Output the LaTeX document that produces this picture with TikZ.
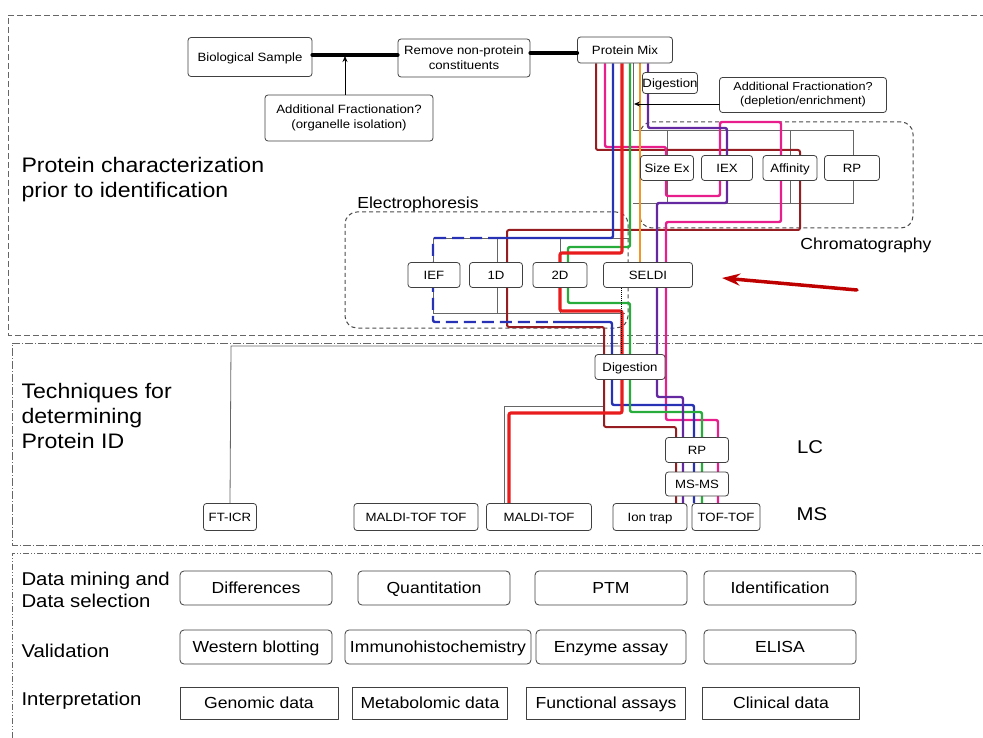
\documentclass[tikz,border=0pt]{standalone}
\usepackage{fontspec}
\setmainfont{Liberation Sans}[FakeStretch=1.1]
\usetikzlibrary{arrows.meta,backgrounds}
\definecolor{brownline}{RGB}{150,30,35}
\definecolor{pinkline}{RGB}{232,30,140}
\definecolor{blueline}{RGB}{40,50,180}
\definecolor{redline}{RGB}{232,28,28}
\definecolor{greenline}{RGB}{40,172,60}
\definecolor{orangeline}{RGB}{242,150,40}
\definecolor{purpleline}{RGB}{100,40,160}
\begin{document}
\begin{tikzpicture}[x=1pt, y=-1pt, line join=round, line cap=round, >=Stealth,
    box/.style={draw=black!75, line width=0.8pt, rounded corners=3pt, fill=white, inner sep=0pt, align=center, font=\fontsize{12}{15}\selectfont},
    sbox/.style={box, text height=11pt, text depth=2.4pt},
    databox/.style={box, text height=14.7pt, text depth=3.2pt, rounded corners=4pt, font=\fontsize{16}{18}\selectfont, minimum width=152pt, minimum height=34pt},
    infobox/.style={databox, rounded corners=0pt, line width=1pt},
    sectitle/.style={anchor=west, align=left, font=\fontsize{21}{25}\selectfont},
    rowtitle/.style={anchor=west, align=left, font=\fontsize{18.5}{22}\selectfont},
    route/.style={line width=2.4pt, rounded corners=2pt},
    bus/.style={draw=black!60, line width=0.8pt}]
\useasboundingbox (0,0) rectangle (983,738);

% section titles
\node[sectitle] (charlabel) at (18,180) {Protein characterization\\prior to identification};
\node[sectitle] (idlabel) at (18,416) {Techniques for\\determining\\Protein ID};
\node[rowtitle] (minelabel) at (18,590) {Data mining and\\Data selection};
\node[rowtitle] (vallabel) at (18,651) {Validation};
\node[rowtitle] (intlabel) at (18,701) {Interpretation};

% sample preparation
\node[sbox, minimum width=124pt, minimum height=39pt] (bio) at (250,57) {Biological Sample};
\node[box, minimum width=132pt, minimum height=38pt] (remove) at (464,58) {Remove non-protein\\constituents};
\node[sbox, minimum width=95pt, minimum height=26pt] (pmix) at (625,50) {Protein Mix};
\node[box, minimum width=168pt, minimum height=46pt] (frac1) at (349,118) {Additional Fractionation?\\(organelle isolation)};
\node[sbox, minimum width=55pt, minimum height=21pt] (dig1) at (670,83) {Digestion};
\node[box, minimum width=167pt, minimum height=35pt, font=\fontsize{11.5}{14}\selectfont] (frac2) at (803,95) {Additional Fractionation?\\(depletion/enrichment)};
\coordinate (jn1) at (345,56);
\coordinate (jn2) at (634,104);
\draw[line width=4pt] (bio.east |- 0,55) -- (remove.west |- 0,55);
\draw[line width=4pt] (remove.east |- 0,53) -- (pmix.west |- 0,53);
\draw[-{Stealth[length=6pt,width=5pt]}, line width=0.8pt] (frac1.north -| jn1) -- (jn1);
\draw[-{Stealth[length=6pt,width=5pt]}, line width=0.8pt] (frac2.west |- jn2) -- (jn2);

% chromatography
\node[sbox, minimum width=53pt, minimum height=25pt] (sizeex) at (667,168) {Size Ex};
\node[sbox, minimum width=51pt, minimum height=25pt] (iex) at (727,168) {IEX};
\node[sbox, minimum width=54pt, minimum height=25pt] (affinity) at (790,168) {Affinity};
\node[sbox, minimum width=55pt, minimum height=25pt] (crp) at (852,168) {RP};
\node[font=\fontsize{16}{18}\selectfont] (chromlabel) at (866,245) {Chromatography};

% electrophoresis
\node[sbox, minimum width=52pt, minimum height=25pt] (ief) at (434,275) {IEF};
\node[sbox, minimum width=53pt, minimum height=25pt] (e1d) at (496,275) {1D};
\node[sbox, minimum width=54pt, minimum height=25pt] (e2d) at (560,275) {2D};
\node[sbox, minimum width=89pt, minimum height=25pt] (seldi) at (648,275) {SELDI};
\node[font=\fontsize{16}{18}\selectfont] (ephlabel) at (418,204) {Electrophoresis};
\draw[-{Stealth[length=18pt,width=12pt]}, line width=3.5pt, red!75!black] (857,290) -- (722,278);

% identification
\node[sbox, minimum width=70pt, minimum height=25pt] (dig2) at (630,367) {Digestion};
\node[sbox, minimum width=63pt, minimum height=25pt] (lcrp) at (697,450) {RP};
\node[sbox, minimum width=63pt, minimum height=24pt] (msms) at (697,484) {MS-MS};
\node[sbox, minimum width=53pt, minimum height=27pt] (fticr) at (230,517) {FT-ICR};
\node[sbox, minimum width=124pt, minimum height=27pt] (mtoftof) at (416,517) {MALDI-TOF TOF};
\node[sbox, minimum width=105pt, minimum height=27pt] (mtof) at (539,517) {MALDI-TOF};
\node[sbox, minimum width=74pt, minimum height=27pt] (iontrap) at (650,517) {Ion trap};
\node[sbox, minimum width=68pt, minimum height=27pt] (toftof) at (726,517) {TOF-TOF};
\node[font=\fontsize{18.5}{22}\selectfont] (lclabel) at (810,447) {LC};
\node[font=\fontsize{18.5}{22}\selectfont] (mslabel) at (812,514) {MS};

% data handling
\node[databox] (diff) at (256,588) {Differences};
\node[databox] (quant) at (434,588) {Quantitation};
\node[databox] (ptm) at (611,588) {PTM};
\node[databox] (ident) at (780,588) {Identification};
\node[databox, minimum width=152pt] (western) at (256,647) {Western blotting};
\node[databox, minimum width=186pt] (immuno) at (438,647) {Immunohistochemistry};
\node[databox, minimum width=150pt] (enzyme) at (611,647) {Enzyme assay};
\node[databox] (elisa) at (780,647) {ELISA};
\node[infobox, minimum width=158pt, minimum height=32pt] (genomic) at (259,703) {Genomic data};
\node[infobox, minimum width=155pt, minimum height=32pt] (metabol) at (430,703) {Metabolomic data};
\node[infobox, minimum width=159pt, minimum height=32pt] (funct) at (606,703) {Functional assays};
\node[infobox, minimum width=157pt, minimum height=32pt] (clinic) at (781,703) {Clinical data};

\begin{scope}[on background layer]
  \draw[black!60, line width=0.8pt, dash pattern=on 6pt off 3pt] (995,15) -- (8,15) -- (8,335) -- (995,335);
  \draw[black!60, line width=0.8pt, dash pattern=on 8pt off 2pt on 1pt off 2pt] (995,343) -- (12,343) -- (12,545) -- (995,545);
  \draw[black!60, line width=0.8pt, dash pattern=on 6pt off 2pt on 1pt off 2pt on 1pt off 2pt] (995,553) -- (12,553) -- (12,745);
  \draw[black!70, line width=1pt, dash pattern=on 4pt off 3pt, rounded corners=12pt] (345,212) rectangle (628,328);
  \draw[black!70, line width=1pt, dash pattern=on 4pt off 3pt, rounded corners=12pt] (640,122) rectangle (913,228);
  % grey buses
  \draw[bus] (pmix.south -| 633,0) -- (633,130) -- (853,130) -- (853,203) -- (633,203);
  \foreach \bx in {667,727,790} \draw[bus] (\bx,130) -- (\bx,203);
  \draw[bus] (630,238) -- (433,238) -- (433,313) -- (625,313);
  \foreach \bx in {497,560} \draw[bus] (\bx,238) -- (\bx,313);
  \draw[bus] (fticr.north) -- (231,346) -- (621,346);
  \draw[bus] (mtof.north -| 504,0) -- (504,406) -- (604,406);
  % sample routes
  \draw[route, brownline, line width=2pt] (pmix.south -| 596,0) |- (800,150) |- (507,230) |- (604,327) |- (676,427) -- (iontrap.north -| 676,0);
  \draw[route, pinkline] (pmix.south -| 605,0) |- (666,147) -- (666,196) -| (720,122) -| (781,222) -| (666,420) -| (toftof.north -| 718,0);
  \draw[route, blueline] (pmix.south -| 613,0) |- (500,238);
  \draw[route, blueline, dash pattern=on 12pt off 6pt] (500,238) -| (433,322) -- (553,322);
  \draw[route, blueline] (553,322) -| (612,405) -| (toftof.north -| 694,0);
  \draw[route, greenline] (pmix.south -| 630,0) |- (568,247) -- (568,303) -| (630,412) -| (toftof.north -| 702,0);
  \draw[route, redline, line width=3.2pt] (pmix.south -| 622,0) |- (560,253) -- (560,311) -| (622,413) -| (mtof.north -| 509,0);
  \draw[route, orangeline, line width=2pt] (pmix.south -| 640,0) -- (seldi.north -| 640,0);
  \draw[route, purpleline] (pmix.south -| 648,0) |- (727,128) -- (727,203) -| (657,397) -| (iontrap.north -| 683,0);
  \draw[densely dotted, line width=1pt] (seldi.south -| 621,0) -- (dig2.north -| 621,0);
\end{scope}
\end{tikzpicture}
\end{document}
